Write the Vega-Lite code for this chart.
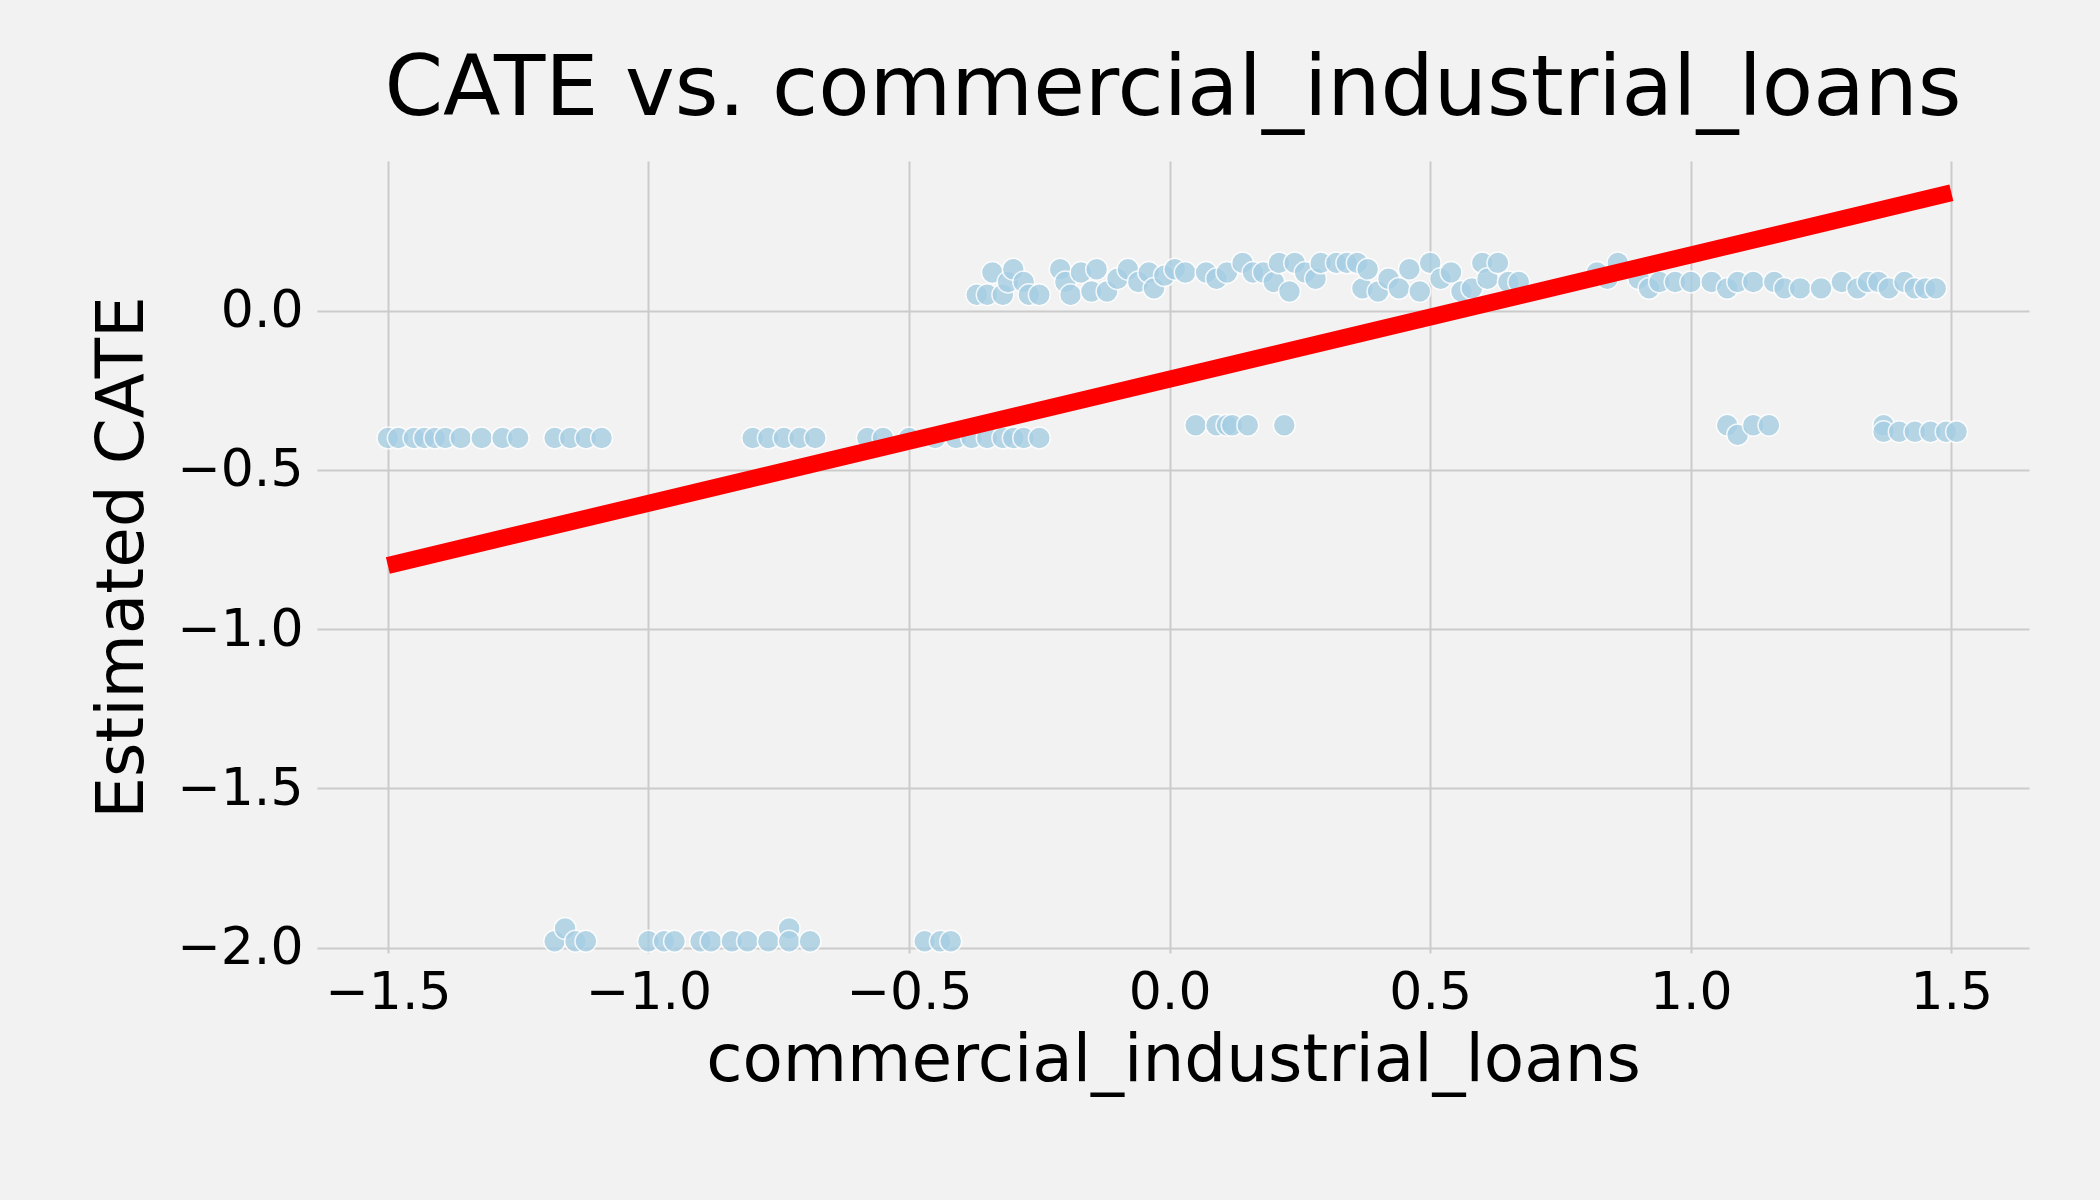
{
"$schema":"https://vega.github.io/schema/vega-lite/v6.json",
"width":1712,"height":792,
"autosize":{"type":"none"},
"padding":{"left":317,"top":161,"right":71,"bottom":247},
"background":"#f2f2f2",
"title":{"text":"CATE vs. commercial_industrial_loans","fontSize":84,"font":"DejaVu Sans","fontWeight":"normal","color":"#000","offset":26},
"config":{"view":{"fill":"#f2f2f2","stroke":null},"axis":{"grid":true,"gridColor":"#cbcbcb","gridWidth":2,"domain":false,"ticks":false,"labelFont":"DejaVu Sans","titleFont":"DejaVu Sans","labelFontSize":52,"titleFontSize":66,"titleFontWeight":"normal","labelColor":"#000","titleColor":"#000","labelPadding":14}},
"datasets":{
"pts":[
{"x":-1.5,"y":-0.4},{"x":-1.48,"y":-0.4},{"x":-1.45,"y":-0.4},{"x":-1.43,"y":-0.4},{"x":-1.41,"y":-0.4},{"x":-1.39,"y":-0.4},{"x":-1.36,"y":-0.4},{"x":-1.32,"y":-0.4},{"x":-1.28,"y":-0.4},{"x":-1.25,"y":-0.4},{"x":-1.18,"y":-0.4},{"x":-1.15,"y":-0.4},{"x":-1.12,"y":-0.4},{"x":-1.09,"y":-0.4},{"x":-0.8,"y":-0.4},{"x":-0.77,"y":-0.4},{"x":-0.74,"y":-0.4},{"x":-0.71,"y":-0.4},{"x":-0.68,"y":-0.4},{"x":-0.58,"y":-0.4},{"x":-0.55,"y":-0.4},{"x":-0.5,"y":-0.4},{"x":-0.45,"y":-0.4},{"x":-0.41,"y":-0.4},{"x":-0.38,"y":-0.4},{"x":-0.35,"y":-0.4},{"x":-0.32,"y":-0.4},{"x":-0.3,"y":-0.4},{"x":-0.28,"y":-0.4},{"x":-0.25,"y":-0.4},
{"x":-1.18,"y":-1.98},{"x":-1.16,"y":-1.94},{"x":-1.14,"y":-1.98},{"x":-1.12,"y":-1.98},{"x":-1.0,"y":-1.98},{"x":-0.97,"y":-1.98},{"x":-0.95,"y":-1.98},{"x":-0.9,"y":-1.98},{"x":-0.88,"y":-1.98},{"x":-0.84,"y":-1.98},{"x":-0.81,"y":-1.98},{"x":-0.77,"y":-1.98},{"x":-0.73,"y":-1.94},{"x":-0.73,"y":-1.98},{"x":-0.69,"y":-1.98},{"x":-0.47,"y":-1.98},{"x":-0.44,"y":-1.98},{"x":-0.42,"y":-1.98},
{"x":0.05,"y":-0.36},{"x":0.09,"y":-0.36},{"x":0.11,"y":-0.36},{"x":0.12,"y":-0.36},{"x":0.15,"y":-0.36},{"x":0.22,"y":-0.36},{"x":1.07,"y":-0.36},{"x":1.09,"y":-0.39},{"x":1.12,"y":-0.36},{"x":1.15,"y":-0.36},{"x":1.37,"y":-0.36},{"x":1.37,"y":-0.38},{"x":1.4,"y":-0.38},{"x":1.43,"y":-0.38},{"x":1.46,"y":-0.38},{"x":1.49,"y":-0.38},{"x":1.51,"y":-0.38},
{"x":-0.37,"y":0.05},{"x":-0.35,"y":0.05},{"x":-0.34,"y":0.12},{"x":-0.32,"y":0.05},{"x":-0.31,"y":0.09},{"x":-0.3,"y":0.13},{"x":-0.28,"y":0.09},{"x":-0.27,"y":0.05},{"x":-0.25,"y":0.05},{"x":-0.21,"y":0.13},{"x":-0.2,"y":0.09},{"x":-0.19,"y":0.05},{"x":-0.17,"y":0.12},{"x":-0.15,"y":0.06},{"x":-0.14,"y":0.13},{"x":-0.12,"y":0.06},{"x":-0.1,"y":0.1},{"x":-0.08,"y":0.13},{"x":-0.06,"y":0.09},{"x":-0.04,"y":0.12},{"x":-0.03,"y":0.07},{"x":-0.01,"y":0.11},{"x":0.01,"y":0.13},{"x":0.03,"y":0.12},{"x":0.07,"y":0.12},{"x":0.09,"y":0.1},{"x":0.11,"y":0.12},{"x":0.14,"y":0.15},{"x":0.16,"y":0.12},{"x":0.18,"y":0.12},{"x":0.2,"y":0.09},{"x":0.21,"y":0.15},{"x":0.23,"y":0.06},{"x":0.24,"y":0.15},{"x":0.26,"y":0.12},{"x":0.28,"y":0.1},{"x":0.29,"y":0.15},{"x":0.32,"y":0.15},{"x":0.34,"y":0.15},{"x":0.36,"y":0.15},{"x":0.37,"y":0.07},{"x":0.38,"y":0.13},{"x":0.4,"y":0.06},{"x":0.42,"y":0.1},{"x":0.44,"y":0.07},{"x":0.46,"y":0.13},{"x":0.48,"y":0.06},{"x":0.5,"y":0.15},{"x":0.52,"y":0.1},{"x":0.54,"y":0.12},{"x":0.56,"y":0.06},{"x":0.58,"y":0.07},{"x":0.6,"y":0.15},{"x":0.61,"y":0.1},{"x":0.63,"y":0.15},{"x":0.65,"y":0.09},{"x":0.67,"y":0.09},{"x":0.82,"y":0.12},{"x":0.84,"y":0.1},{"x":0.86,"y":0.15},{"x":0.9,"y":0.1},{"x":0.92,"y":0.07},{"x":0.94,"y":0.09},{"x":0.97,"y":0.09},{"x":1.0,"y":0.09},{"x":1.04,"y":0.09},{"x":1.07,"y":0.07},{"x":1.09,"y":0.09},{"x":1.12,"y":0.09},{"x":1.16,"y":0.09},{"x":1.18,"y":0.07},{"x":1.21,"y":0.07},{"x":1.25,"y":0.07},{"x":1.29,"y":0.09},{"x":1.32,"y":0.07},{"x":1.34,"y":0.09},{"x":1.36,"y":0.09},{"x":1.38,"y":0.07},{"x":1.41,"y":0.09},{"x":1.43,"y":0.07},{"x":1.45,"y":0.07},{"x":1.47,"y":0.07}
],
"line":[{"x":-1.5,"y":-0.8},{"x":1.5,"y":0.37}]
},
"layer":[
{"data":{"name":"pts"},"mark":{"type":"circle","size":480,"color":"#a6cee3","opacity":0.8,"stroke":"#ffffff","strokeWidth":1.5},
"encoding":{"x":{"field":"x","type":"quantitative","scale":{"domain":[-1.636,1.649],"nice":false,"zero":false},"axis":{"values":[-1.5,-1,-0.5,0,0.5,1,1.5],"format":".1f","title":"commercial_industrial_loans","titlePadding":10}},
"y":{"field":"y","type":"quantitative","scale":{"domain":[-2.017,0.47],"nice":false,"zero":false},"axis":{"values":[-2,-1.5,-1,-0.5,0],"format":".1f","title":"Estimated CATE","titlePadding":20}}}},
{"data":{"name":"line"},"mark":{"type":"line","color":"#ff0000","strokeWidth":17},
"encoding":{"x":{"field":"x","type":"quantitative"},"y":{"field":"y","type":"quantitative"}}}
]
}
